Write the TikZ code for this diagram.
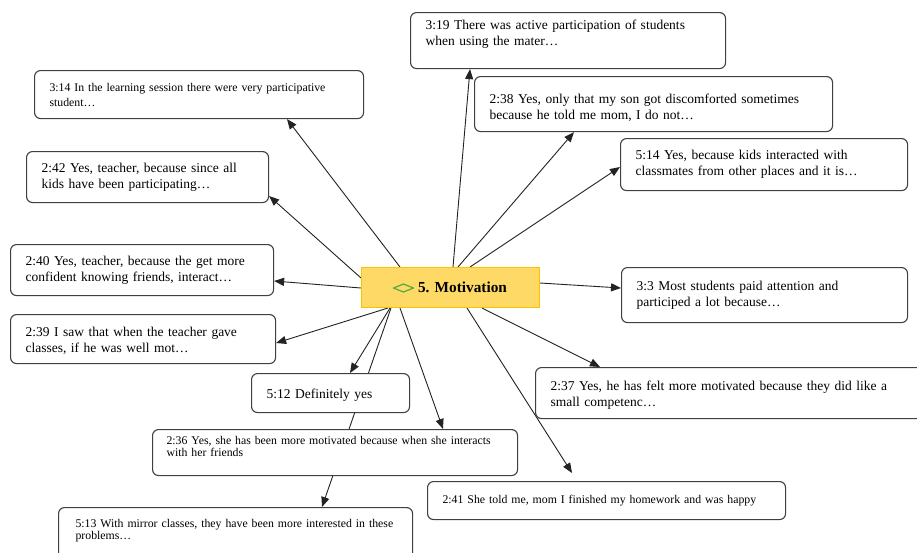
\documentclass[tikz,border=0pt]{standalone}
\usepackage{fontspec}
\setmainfont{Liberation Serif}
\usetikzlibrary{arrows.meta,calc,backgrounds}

\definecolor{hubfill}{RGB}{255,217,102}
\definecolor{hubedge}{RGB}{255,192,0}
\definecolor{codegreen}{RGB}{84,168,72}
\definecolor{cardedge}{RGB}{64,64,64}
\definecolor{linkcol}{RGB}{35,35,35}

% a strut that deepens the last line, lifting a card's text
\newcommand{\liftby}[1]{\rule[-#1]{0pt}{#1}}
% a strut that heightens the first line, lowering a card's text
\newcommand{\dropby}[1]{\rule{0pt}{#1}}

\begin{document}
\begin{tikzpicture}[x=1pt,y=-1pt,
  card/.style={draw=cardedge, line width=1.1pt, rounded corners=6pt, fill=white,
    anchor=north west, inner xsep=0pt, inner ysep=0pt, align=left},
  normtxt/.style={font=\fontsize{13.5}{16}\selectfont},
  smalltxt/.style={font=\fontsize{11.8}{14}\selectfont},
  hub/.style={draw=hubedge, fill=hubfill, line width=1pt, anchor=north west,
    inner sep=0pt, minimum width=178pt, minimum height=40pt,
    font=\fontsize{15.3}{18}\selectfont\bfseries},
  link/.style={draw=linkcol, line width=0.9pt, -{Triangle[length=10pt,width=8pt]}},
]
\useasboundingbox (0,0) rectangle (917,552);

% central code
\node[hub] (c) at (361,267) {\hspace*{24pt}5. Motivation};
\draw[codegreen, line width=1.2pt, line join=round]
  ($(c.center)+(-57,0.5)$) -- ++(10,-4) -- ++(10,4) -- ++(-10,4) -- cycle;

% quotation cards
\node[card, normtxt, minimum width=315pt, minimum height=56pt, text width=285pt]
  (q319) at (410,12) {3:19 There was active participation of students\\when using the mater…\liftby{15pt}};
\node[card, smalltxt, minimum width=329pt, minimum height=48pt, text width=299pt,
  font=\fontsize{11.8}{15}\selectfont]
  (q314) at (34,70) {3:14 In the learning session there were very participative\\student…};
\node[card, normtxt, minimum width=358pt, minimum height=55pt, text width=328pt]
  (q238) at (474,76) {\dropby{16pt}2:38 Yes, only that my son got discomforted sometimes\\because he told me mom, I do not…};
\node[card, normtxt, minimum width=287pt, minimum height=52pt, text width=257pt]
  (q514) at (620,138) {5:14 Yes, because kids interacted with\\classmates from other places and it is…};
\node[card, normtxt, minimum width=242pt, minimum height=51pt, text width=212pt]
  (q242) at (26,151) {2:42 Yes, teacher, because since all\\kids have been participating…};
\node[card, normtxt, minimum width=263pt, minimum height=51pt, text width=233pt]
  (q240) at (10,244) {2:40 Yes, teacher, because the get more\\confident knowing friends, interact…};
\node[card, normtxt, minimum width=286pt, minimum height=55pt, text width=256pt]
  (q33) at (621,267) {3:3 Most students paid attention and\\participed a lot because…};
\node[card, normtxt, minimum width=265pt, minimum height=49pt, text width=235pt]
  (q239) at (10,314) {\dropby{13pt}2:39 I saw that when the teacher gave\\classes, if he was well mot…};
\node[card, normtxt, minimum width=158pt, minimum height=39pt, text width=128pt]
  (q512) at (251,373) {\dropby{14pt}5:12 Definitely yes};
\node[card, normtxt, minimum width=392pt, minimum height=51pt, text width=362pt]
  (q237) at (535,367) {\dropby{14pt}2:37 Yes, he has felt more motivated because they did like a\\small competenc…};
\node[card, smalltxt, minimum width=365pt, minimum height=46pt, text width=337pt,
  font=\fontsize{11.8}{12}\selectfont]
  (q236) at (152,429) {2:36 Yes, she has been more motivated because when she interacts\\with her friends\liftby{13pt}};
\node[card, smalltxt, minimum width=358pt, minimum height=38pt, text width=328pt]
  (q241) at (427,481) {2:41 She told me, mom I finished my homework and was happy};
\node[card, smalltxt, minimum width=354pt, minimum height=53pt, text width=320pt,
  font=\fontsize{11.8}{12}\selectfont]
  (q513) at (58,507) {\mbox{5:13 With mirror classes, they have been more interested in these}\\problems…\liftby{9pt}};

% links from the code to its quotations, kept under the cards
\begin{scope}[on background layer]
\fill[white] (0,0) rectangle (917,552);
\draw[link] ($(c.north west)+(92,0)$)  -- ($(q319.south west)+(60,0)$);
\draw[link] ($(c.north west)+(39,0)$)  -- ($(q314.south west)+(253,0)$);
\draw[link] ($(c.north west)+(97,0)$)  -- ($(q238.south west)+(100,0)$);
\draw[link] ($(c.north west)+(109,0)$) -- ($(q514.north west)+(0,29)$);
\draw[link] ($(c.north west)+(0,11)$)  -- ($(q242.north east)+(0,45)$);
\draw[link] ($(c.north west)+(0,21)$)  -- ($(q240.north east)+(0,37)$);
\draw[link] ($(c.north east)+(0,16)$)  -- ($(q33.north west)+(0,21)$);
\draw[link] ($(c.south west)+(27,0)$)  -- ($(q239.north east)+(0,29)$);
\draw[link] ($(c.south west)+(29,0)$)  -- ($(q512.north west)+(99,0)$);
\draw[link] ($(c.south west)+(30,0)$)  -- ($(q513.north west)+(264,0)$);
\draw[link] ($(c.south west)+(39,0)$)  -- ($(q236.north west)+(291,0)$);
\draw[link] ($(c.south west)+(106,0)$) -- ($(q241.north west)+(145,-8)$);
\draw[link] ($(c.south west)+(121,0)$) -- ($(q237.north west)+(65,0)$);
\end{scope}
\end{tikzpicture}
\end{document}
